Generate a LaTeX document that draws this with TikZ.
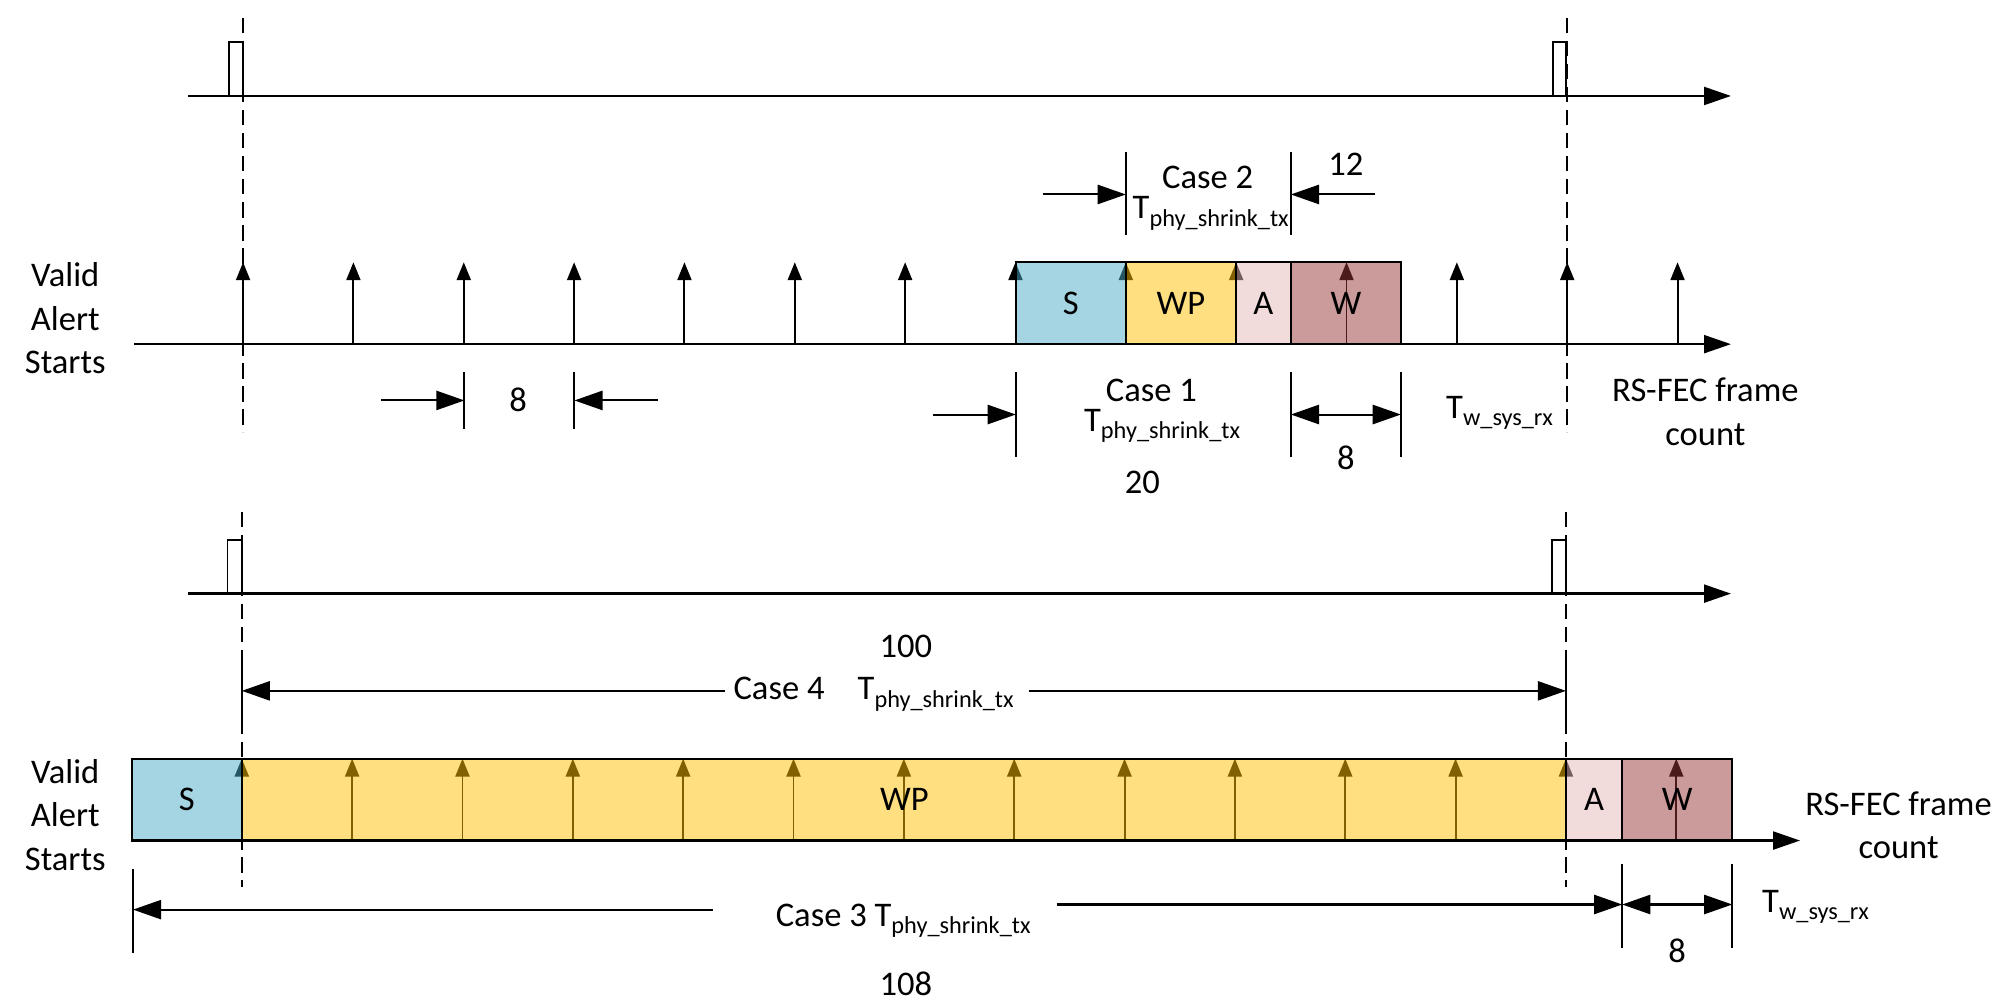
\documentclass[tikz,border=0pt]{standalone}
\usepackage{fontspec}
\setmainfont{Carlito}
\usetikzlibrary{arrows.meta}
\definecolor{sC}{RGB}{75,172,198}
\definecolor{wpC}{RGB}{255,192,0}
\definecolor{aC}{RGB}{230,185,184}
\definecolor{wC}{RGB}{149,55,53}
\newcommand{\Tsub}[1]{T\raisebox{-0.45ex}{\fontsize{9.5}{10}\selectfont #1}}
\begin{document}
\begin{tikzpicture}[x=0.5pt,y=-0.5pt,
  axis/.style={line width=0.9pt,-{Triangle[length=10.5pt,width=7pt]}},
  pulse/.style={line width=0.6pt},
  tick/.style={line width=0.8pt},
  upar/.style={line width=0.75pt,-{Triangle[length=7pt,width=5.5pt]}},
  dimar/.style={line width=0.8pt,-{Triangle[length=11pt,width=7.5pt]}},
  dimdbl/.style={line width=0.8pt,{Triangle[length=11pt,width=7.5pt]}-{Triangle[length=11pt,width=7.5pt]}},
  guide/.style={line width=0.8pt,dash pattern=on 6pt off 3pt},
  seg/.style={line width=0.9pt,draw=black,fill opacity=0.5},
  lbl/.style={font=\fontsize{13.5}{17}\selectfont, inner sep=0pt, align=center},
  blbl/.style={lbl, anchor=base},
  wlbl/.style={lbl, anchor=base west}]
\useasboundingbox (0,0) rectangle (1568,784);

% ================= TOP SECTION =================
% pulse line
\coordinate (tp0) at (147,75);
\coordinate (tp1) at (1353,75);
\draw[axis] (tp0) -- (tp1);
\draw[pulse] (179,75) -- (179,33) -- (190,33) -- (190,75);
\draw[pulse] (1214,75) -- (1214,33) -- (1224,33) -- (1224,75);
% alert timeline
\coordinate (ta0) at (105,269);
\coordinate (ta1) at (1353,269);
\draw[axis] (ta0) -- (ta1);
\foreach \i in {0,...,13}{
  \draw[upar] ({190+86.25*\i},269) -- ({190+86.25*\i},205);
}
% boxes
\draw[seg, fill=sC]  (794,205) rectangle (880,269);
\draw[seg, fill=wpC] (880,205) rectangle (966,269);
\draw[seg, fill=aC]  (966,205) rectangle (1009,269);
\draw[seg, fill=wC]  (1009,205) rectangle (1095,269);
\node[lbl] (tS)  at (837,237) {S};
\node[lbl] (tWP) at (923,237) {WP};
\node[lbl] (tA)  at (987.5,237) {A};
\node[lbl] (tW)  at (1052,237) {W};
% dashed guides
\draw[guide] (190,14) -- (190,338);
\draw[guide] (1224.5,14) -- (1224.5,338);
\node[lbl] (tvas) at (51,249) {Valid\\Alert\\Starts};

% Case 2
\coordinate (c2a) at (880,152);
\coordinate (c2b) at (1009,152);
\draw[tick] (880,119) -- (880,184);
\draw[tick] (1009,119) -- (1009,184);
\draw[dimar] (815,152) -- (c2a);
\draw[dimar] (1075,152) -- (c2b);
\node[blbl] (c2) at (944,147) {Case 2};
\node[wlbl] (c2t) at (885,171) {\Tsub{phy\_shrink\_tx}};
\node[blbl] (n12) at (1052,137) {12};

% Left 8
\coordinate (e8a) at (363,313);
\coordinate (e8b) at (449,313);
\draw[tick] (363,291) -- (363,335);
\draw[tick] (449,291) -- (449,335);
\draw[dimar] (298,313) -- (e8a);
\draw[dimar] (514,313) -- (e8b);
\node[blbl] (n8a) at (405,322) {8};

% Case 1
\coordinate (c1a) at (794,324);
\coordinate (c1b) at (1009,324);
\coordinate (c1c) at (1095,324);
\draw[tick] (794,291) -- (794,357);
\draw[tick] (1009,291) -- (1009,357);
\draw[tick] (1095,291) -- (1095,357);
\draw[dimar] (729,324) -- (c1a);
\draw[dimdbl] (c1b) -- (c1c);
\node[blbl] (c1) at (900,314) {Case 1};
\node[wlbl] (c1t) at (847,337) {\Tsub{phy\_shrink\_tx}};
\node[blbl] (n20) at (893,386) {20};
\node[blbl] (n8b) at (1052,367) {8};
\node[wlbl] (tws1) at (1130,327) {\Tsub{w\_sys\_rx}};
\node[lbl] (rs1) at (1333,322) {RS-FEC frame\\count};

% ================= BOTTOM SECTION =================
\coordinate (bp0) at (147,464);
\coordinate (bp1) at (1353,464);
\draw[axis] (bp0) -- (bp1);
\draw[pulse] (178,464) -- (178,422) -- (189,422) -- (189,464);
\draw[pulse] (1213,464) -- (1213,422) -- (1224,422) -- (1224,464);
% alert timeline
\coordinate (ba0) at (103,657);
\coordinate (ba1) at (1407,657);
\draw[axis] (ba0) -- (ba1);
\foreach \i in {0,...,13}{
  \draw[upar] ({189+86.25*\i},657) -- ({189+86.25*\i},593);
}
\draw[seg, fill=sC]  (103,593) rectangle (189,657);
\draw[seg, fill=wpC] (189,593) rectangle (1224,657);
\draw[seg, fill=aC]  (1224,593) rectangle (1268,657);
\draw[seg, fill=wC]  (1268,593) rectangle (1354,657);
\node[lbl] (bS)  at (146,625) {S};
\node[lbl] (bWP) at (707,625) {WP};
\node[lbl] (bA)  at (1246,625) {A};
\node[lbl] (bW)  at (1311,625) {W};
% dashed guides
\draw[guide] (189,400) -- (189,693);
\draw[guide] (1224,400) -- (1224,693);
\node[lbl] (bvas) at (51,637) {Valid\\Alert\\Starts};
\node[lbl] (rs2) at (1484,645) {RS-FEC frame\\count};

% Case 4
\coordinate (c4a) at (189,540);
\coordinate (c4b) at (1224,540);
\draw[tick] (189,508) -- (189,573);
\draw[tick] (1224,508) -- (1224,573);
\draw[dimar] (567,540) -- (c4a);
\draw[dimar] (804,540) -- (c4b);
\node[wlbl] (c4) at (573,547) {Case 4};
\node[wlbl] (c4t) at (670,547) {\Tsub{phy\_shrink\_tx}};
\node[blbl] (n100) at (708,514) {100};

% Case 3
\coordinate (c3a) at (104,711);
\coordinate (c3b) at (1268,707);
\coordinate (c3c) at (1354,707);
\draw[tick] (104,679) -- (104,745);
\draw[tick] (1268,675) -- (1268,741);
\draw[tick] (1354,675) -- (1354,741);
\draw[dimar] (557,711) -- (c3a);
\draw[dimar] (826,707) -- (c3b);
\draw[dimdbl] (c3b) -- (c3c);
\node[wlbl] (c3) at (606,724) {Case 3 \Tsub{phy\_shrink\_tx}};
\node[blbl] (n108) at (708,778) {108};
\node[blbl] (n8c) at (1311,752) {8};
\node[wlbl] (tws2) at (1377,713) {\Tsub{w\_sys\_rx}};
\end{tikzpicture}
\end{document}
